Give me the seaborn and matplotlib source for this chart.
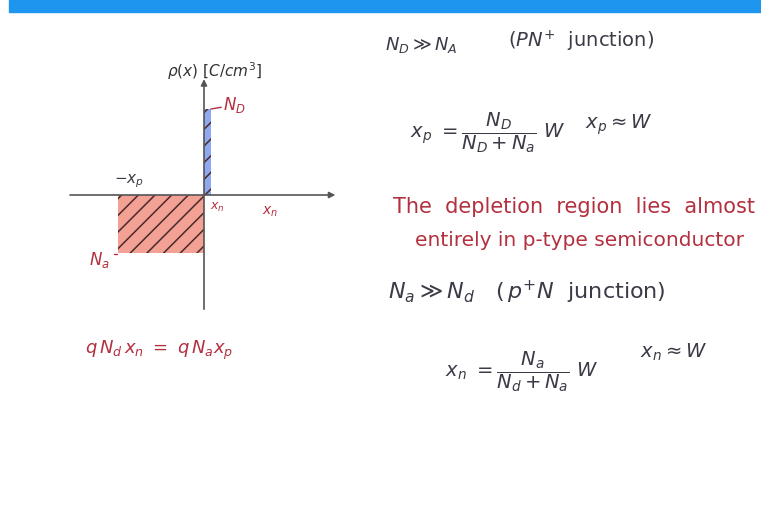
import matplotlib
matplotlib.use("Agg")
import matplotlib.pyplot as plt
from matplotlib.patches import Rectangle
import seaborn as sns

# Charge density of an abrupt junction (normalised units)
region = ["p-side", "n-side"]
x_start = [-1.0, 0.0]          # -x_p and 0
widths = [1.0, 0.08]           # x_p and x_n
rho = [-0.67, 1.0]             # -N_a and +N_d
fill_colors = ["#f4a195", "#8fa9f0"]

INK = "#3b3b48"
RED = "#b3303f"

sns.set_theme(style="white")
plt.rcParams["font.family"] = ["DejaVu Sans"]
plt.rcParams["mathtext.fontset"] = "dejavusans"
plt.rcParams["hatch.linewidth"] = 1.1

W, H = 761, 509
fig = plt.figure(figsize=(W / 100, H / 100), dpi=100)
fig.patch.set_facecolor("white")


def fx(x):
    return x / W


def fy(y):
    return 1 - y / H


# header band
fig.patches.append(Rectangle((fx(9), fy(12)), 1 - fx(9), 12 / H,
                             transform=fig.transFigure, color="#1e96f0", zorder=0))

# diagram axes: 86 px per unit, origin at (204, 195) px
left, right, top, bottom = 60, 350, 70, 320
ax = fig.add_axes([fx(left), fy(bottom), (right - left) / W, (bottom - top) / H])
ax.set_xlim(-(204 - left) / 86, (right - 204) / 86)
ax.set_ylim(-(bottom - 195) / 86, (195 - top) / 86)
ax.axis("off")

ax.bar(x_start, rho, width=widths, align="edge", color=fill_colors, linewidth=0, zorder=1)
ax.bar(x_start, rho, width=widths, align="edge", facecolor="none",
       edgecolor="#4a2a2a", linewidth=0, hatch="//", zorder=2)

arrow = dict(arrowstyle="-|>", color="#555555", lw=1.2, mutation_scale=9)
ax.annotate("", xy=(1.56, 0), xytext=(-1.59, 0), arrowprops=arrow, zorder=3)
ax.annotate("", xy=(0, 1.38), xytext=(0, -1.36), arrowprops=arrow, zorder=3)

# small level ticks
ax.plot([widths[1], 0.2], [rho[1], rho[1] + 0.02], color=RED, lw=1)
ax.plot([x_start[0] - 0.05, x_start[0] - 0.01], [rho[0] - 0.02, rho[0] - 0.02], color=RED, lw=1)

ax.text(0.12, 1.44, r"$\rho(x)\ [C/cm^3]$", ha="center", va="center", fontsize=11, color="#333333")
ax.text(x_start[0] - 0.05, 0.06, r"$-x_p$", ha="left", va="bottom", fontsize=11, color=INK)
ax.text(0.22, rho[1] + 0.05, r"$N_D$", ha="left", va="center", fontsize=12, color=RED)
ax.text(x_start[0] - 0.1, rho[0] - 0.08, r"$N_a$", ha="right", va="center", fontsize=12, color=RED)
ax.text(0.07, -0.15, r"$x_n$", ha="left", va="center", fontsize=9, color=RED)
ax.text(0.67, -0.2, r"$x_n$", ha="left", va="center", fontsize=10, color=RED, fontweight="bold")

# notes
fig.text(fx(85), fy(350), r"$q\,N_d\,x_n\ =\ q\,N_a x_p$", fontsize=13, color=RED, va="center")

fig.text(fx(385), fy(45), r"$N_D \gg N_A$", fontsize=13, color=INK, va="center")
fig.text(fx(508), fy(41), r"$(PN^{+}\ \ \mathrm{junction})$", fontsize=14, color=INK, va="center")
fig.text(fx(410), fy(133), r"$x_p\ =\dfrac{N_D}{N_D+N_a}\ W$", fontsize=14, color=INK, va="center")
fig.text(fx(585), fy(125), r"$x_p \approx W$", fontsize=14, color=INK, va="center")

fig.text(fx(393), fy(207), "The  depletion  region  lies  almost", fontsize=15, color=RED, va="center")
fig.text(fx(415), fy(240), "entirely in p-type semiconductor", fontsize=14.5, color=RED, va="center")

fig.text(fx(388), fy(292), r"$N_a \gg N_d\ \ \ (\,p^{+}N\ \ \mathrm{junction})$", fontsize=16, color=INK, va="center")
fig.text(fx(445), fy(372), r"$x_n\ =\dfrac{N_a}{N_d+N_a}\ W$", fontsize=14, color=INK, va="center")
fig.text(fx(640), fy(352), r"$x_n \approx W$", fontsize=14, color=INK, va="center")

fig.savefig("out.png", dpi=100, facecolor="white")
